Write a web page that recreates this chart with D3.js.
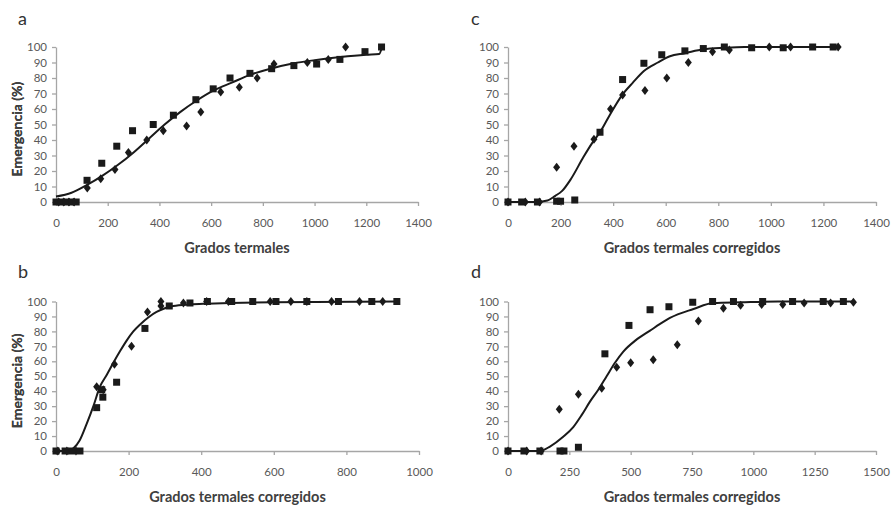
<!DOCTYPE html>
<html>
<head>
<meta charset="utf-8">
<script src="https://cdn.jsdelivr.net/npm/d3@7"></script>
<style>
  body { margin: 0; background: #fff; }
  svg { display: block; }
</style>
</head>
<body>
<svg width="891" height="505"></svg>
<script>
// panel a: thermal time
const aSquares = [[0,0],[20,0],[40,0],[60,0],[78,0],[120,14],[177,25],[235,36],[296,46],[376,50],[454,56],[541,66],[608,73],[673,80],[750,83],[834,86],[920,88],[1008,89],[1098,92],[1195,97],[1259,100]];
const aDiamonds = [[10,0],[30,0],[50,0],[70,0],[121,9],[173,15],[228,21],[280,32],[351,40],[415,46],[505,49],[560,58],[637,71],[709,74],[778,80],[843,89],[972,90],[1053,92],[1120,100]];
const aCurve = [[0,3.5],[60,6],[120,11],[180,17],[240,24],[300,32],[360,41],[420,50],[480,58],[540,65],[610,72],[680,77],[750,82],[830,86],[920,89.5],[1000,91.5],[1100,93.5],[1200,95],[1250,95.5],[1259,99]];

// panel c: corrected thermal time
const cSquares = [[0,0],[52,0],[112,0],[185,0.5],[200,0.5],[254,1.3],[350,45],[436,79],[517,89.5],[585,95],[673,97.5],[743,99],[823,100],[927,99.5],[1047,99.5],[1159,100],[1237,100]];
const cDiamonds = [[0,0],[66,0],[120,0],[185,22.5],[251,36],[327,40.5],[390,60],[436,69],[521,72],[604,80],[686,90],[778,97],[842,98],[994,100],[1075,100],[1256,100]];
const cCurve = [[0,0],[100,0],[150,1],[180,4],[205,7],[240,15],[287,29],[320,38],[350,45],[390,57],[434,69],[475,77],[517,84.5],[570,90],[616,94],[673,96],[743,98.5],[823,99.5],[900,100],[1256,100]];

// panel b: corrected thermal time
const bSquares = [[0,0],[25,0],[43,0],[66,0],[112,29],[126,41],[129,36],[167,46],[245,82],[312,97],[369,99],[417,100],[484,100],[542,100],[606,100],[691,100],[778,100],[870,100],[939,100]];
const bDiamonds = [[5,0],[30,0],[55,0],[112,43],[130,41],[161,58],[208,70],[252,93],[289,100],[289,97],[351,99],[415,100],[475,100],[590,100],[647,100],[691,100],[759,100],[836,100],[900,100]];
const bCurve = [[0,0],[30,0],[48,1.8],[65,7],[85,18.5],[103,30],[121,43],[140,51],[158,59],[177,67],[195,74],[213,80],[231,84.5],[255,89.5],[277,93],[300,95.5],[323,97],[370,98],[415,98.5],[480,99],[600,99.5],[939,100]];

// panel d: corrected thermal time
const dSquares = [[0,0],[65,0],[130,0],[212,0],[228,0],[287,2.5],[395,65],[493,84],[579,94.5],[656,96.5],[753,99.5],[834,100],[919,100],[1038,100],[1160,100],[1285,100],[1367,100]];
const dDiamonds = [[0,0],[76,0],[135,0],[209,28],[287,38],[382,42],[443,56],[500,59],[592,61],[690,71],[776,87],[878,95.5],[948,97.5],[1034,98],[1120,98],[1207,99],[1315,99],[1408,99.5]];
const dCurve = [[0,0],[130,0],[171,3],[225,9.5],[266,16],[300,24],[334,33],[368,41],[402,50],[436,59],[470,66.5],[520,74],[579,80.5],[620,85],[660,89],[756,95],[837,99],[950,99.5],[1100,100],[1408,100]];

const yTicks = d3.range(0, 101, 10);
const xTicksA = d3.range(0, 1401, 200);
const xTicksB = d3.range(0, 1001, 200);
const xTicksD = d3.range(0, 1501, 250);

const svg = d3.select("svg");
const fontFam = "Lato, 'Open Sans', sans-serif";

const panels = [
  { letter: "a", lx: 18, ly: 25, left: 56, right: 418, top: 47, bottom: 202, xMax: 1400, ticks: xTicksA,
    title: "Grados termales", sq: aSquares, di: aDiamonds, curve: aCurve },
  { letter: "c", lx: 471, ly: 25, left: 508, right: 876, top: 47, bottom: 202, xMax: 1400, ticks: xTicksA,
    title: "Grados termales corregidos", sq: cSquares, di: cDiamonds, curve: cCurve },
  { letter: "b", lx: 18, ly: 278, left: 56, right: 419, top: 301.5, bottom: 451, xMax: 1000, ticks: xTicksB,
    title: "Grados termales corregidos", sq: bSquares, di: bDiamonds, curve: bCurve },
  { letter: "d", lx: 471, ly: 278, left: 508, right: 876, top: 301.5, bottom: 451, xMax: 1500, ticks: xTicksD,
    title: "Grados termales corregidos", sq: dSquares, di: dDiamonds, curve: dCurve }
];

panels.forEach(p => {
  const x = d3.scaleLinear().domain([0, p.xMax]).range([p.left, p.right]);
  const y = d3.scaleLinear().domain([0, 100]).range([p.bottom, p.top]);
  const g = svg.append("g");

  // axes
  const xAxis = g.append("g")
    .attr("transform", `translate(0,${p.bottom})`)
    .call(d3.axisBottom(x).tickValues(p.ticks).tickFormat(d3.format("d"))
      .tickSize(4).tickPadding(13).tickSizeOuter(0));
  const yAxis = g.append("g")
    .attr("transform", `translate(${p.left},0)`)
    .call(d3.axisLeft(y).tickValues(yTicks).tickFormat(d3.format("d"))
      .tickSize(4).tickPadding(5).tickSizeOuter(0));

  [xAxis, yAxis].forEach(ax => {
    ax.select(".domain").attr("stroke", "#a6a6a6").attr("stroke-width", 1.3);
    ax.selectAll(".tick line").attr("stroke", "#a6a6a6").attr("stroke-width", 1.3);
    ax.selectAll(".tick text")
      .attr("fill", "#595959")
      .style("font-family", fontFam)
      .style("font-size", "11.5px");
  });

  // fitted curve
  g.append("path")
    .datum(p.curve)
    .attr("fill", "none")
    .attr("stroke", "#1a1a1a")
    .attr("stroke-width", 2)
    .attr("d", d3.line().curve(d3.curveMonotoneX).x(d => x(d[0])).y(d => y(d[1])));

  // diamonds
  g.selectAll(".di")
    .data(p.di)
    .enter()
    .append("path")
    .attr("class", "di")
    .attr("transform", d => `translate(${x(d[0])},${y(d[1])})`)
    .attr("d", "M0,-4.5L3.5,0L0,4.5L-3.5,0Z")
    .attr("fill", "#1a1a1a");

  // squares
  g.selectAll(".sq")
    .data(p.sq)
    .enter()
    .append("rect")
    .attr("class", "sq")
    .attr("x", d => x(d[0]) - 3.5)
    .attr("y", d => y(d[1]) - 3.5)
    .attr("width", 7)
    .attr("height", 7)
    .attr("fill", "#1a1a1a");

  // titles
  g.append("text")
    .attr("x", (p.left + p.right) / 2)
    .attr("y", p.bottom + 51)
    .attr("text-anchor", "middle")
    .attr("fill", "#404040")
    .style("font-family", fontFam)
    .style("font-size", "14.5px")
    .style("font-weight", "bold")
    .text(p.title);

  g.append("text")
    .attr("transform", `translate(21.5,${(p.top + p.bottom) / 2 + 4.5}) rotate(-90)`)
    .attr("text-anchor", "middle")
    .attr("fill", "#404040")
    .style("font-family", fontFam)
    .style("font-size", "14px")
    .style("font-weight", "bold")
    .text("Emergencia (%)");

  g.append("text")
    .attr("x", p.lx)
    .attr("y", p.ly)
    .attr("fill", "#333")
    .style("font-family", fontFam)
    .style("font-size", "18px")
    .text(p.letter);
});
</script>
</body>
</html>
